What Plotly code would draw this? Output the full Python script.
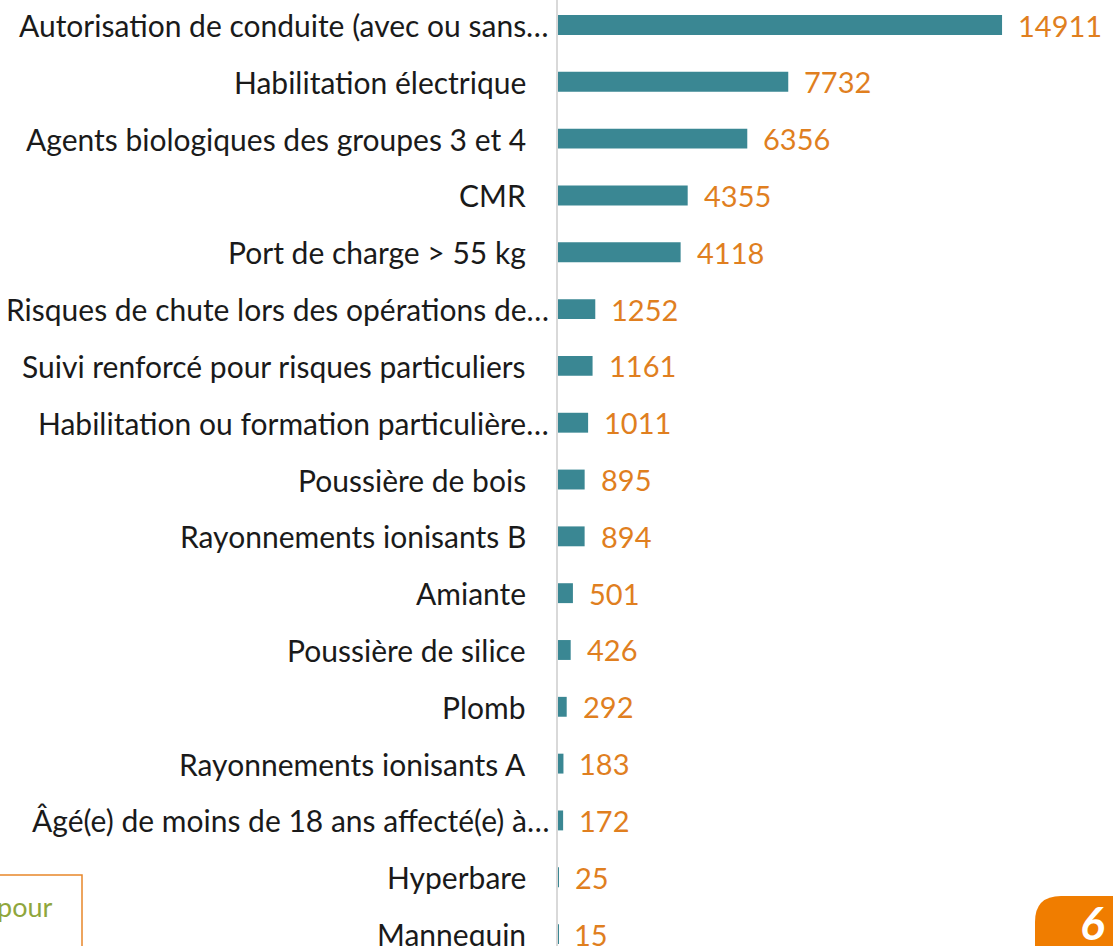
import plotly.graph_objects as go

categories = [
    "Autorisation de conduite (avec ou sans…",
    "Habilitation électrique",
    "Agents biologiques des groupes 3 et 4",
    "CMR",
    "Port de charge > 55 kg",
    "Risques de chute lors des opérations de…",
    "Suivi renforcé pour risques particuliers",
    "Habilitation ou formation particulière…",
    "Poussière de bois",
    "Rayonnements ionisants B",
    "Amiante",
    "Poussière de silice",
    "Plomb",
    "Rayonnements ionisants A",
    "Âgé(e) de moins de 18 ans affecté(e) à…",
    "Hyperbare",
    "Mannequin",
]
values = [14911, 7732, 6356, 4355, 4118, 1252, 1161, 1011, 895, 894, 501, 426, 292, 183, 172, 25, 15]

W, H = 1113, 946
BAR = "#3a8793"
ORANGE = "#e07f1f"
FONT = "Lato"

fig = go.Figure()
fig.add_trace(go.Bar(
    y=categories, x=values, orientation="h",
    marker=dict(color=BAR, line=dict(width=0)),
    width=0.35, hoverinfo="x+y",
))

annotations = []
for cat, v in zip(categories, values):
    truncated = cat.endswith("…")
    annotations.append(dict(
        x=0, y=cat, xref="x", yref="y", text=cat, showarrow=False,
        xanchor="right", yanchor="middle",
        xshift=-7 if truncated else -30,
        font=dict(family=FONT, size=30, color="#1a1a1a"),
    ))
    annotations.append(dict(
        x=v, y=cat, xref="x", yref="y", text=str(v), showarrow=False,
        xanchor="left", yanchor="middle", xshift=14,
        font=dict(family=FONT, size=29, color=ORANGE),
    ))

# decorative slide fragments
annotations.append(dict(
    x=54 / W, y=1 - 906 / H, xref="paper", yref="paper", text="pour",
    showarrow=False, xanchor="right", yanchor="middle",
    font=dict(family=FONT, size=27, color="#8fa63c"),
))
annotations.append(dict(
    x=1092 / W, y=1 - 922 / H, xref="paper", yref="paper", text="<b><i>6</i></b>",
    showarrow=False, xanchor="center", yanchor="middle",
    font=dict(family=FONT, size=46, color="white"),
))

def px(x):
    return x / W

def py(y):
    return 1 - y / H

r = 26
path = (f"M {px(1035)},{py(960)} L {px(1035)},{py(896 + r)} "
        f"Q {px(1035)},{py(896)} {px(1035 + r)},{py(896)} "
        f"L {px(1130)},{py(896)} L {px(1130)},{py(960)} Z")

shapes = [
    dict(type="rect", xref="paper", yref="paper",
         x0=px(-10), x1=px(82), y0=py(960), y1=py(875),
         line=dict(color="#e8872a", width=1.5), fillcolor="rgba(0,0,0,0)"),
    dict(type="path", xref="paper", yref="paper", path=path,
         line=dict(width=0), fillcolor="#f07d00"),
]

fig.update_layout(
    width=W, height=H,
    margin=dict(l=0, r=0, t=0, b=0),
    paper_bgcolor="white", plot_bgcolor="white",
    showlegend=False,
    xaxis=dict(domain=[558 / W, 1], range=[0, 555 / 0.02978],
               showgrid=False, zeroline=False, showticklabels=False, showline=False),
    yaxis=dict(type="category", categoryorder="array", categoryarray=categories,
               range=[16.21, -0.44], showgrid=False, zeroline=False,
               showticklabels=False, showline=True, linecolor="#d9d9d9", linewidth=2),
    annotations=annotations,
    shapes=shapes,
)

fig.write_html("out.html",
               config={"displayModeBar": False},
               post_script="document.body.style.margin='0';document.body.style.overflow='hidden';")
